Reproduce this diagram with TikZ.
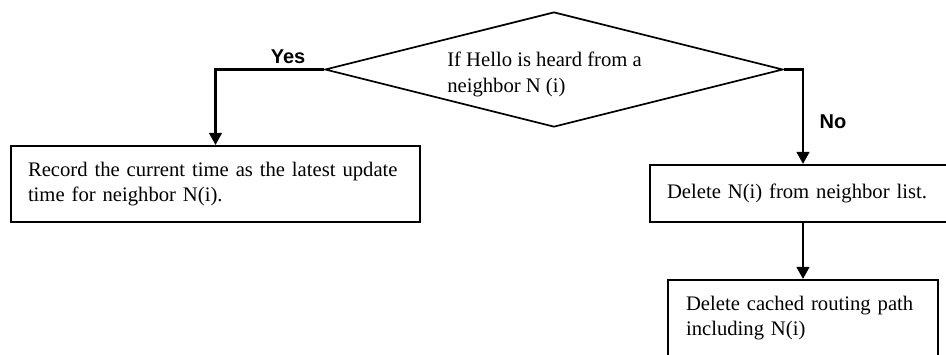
\documentclass[tikz,border=0pt]{standalone}
\usepackage{fontspec}
\setmainfont{Liberation Serif}
\newfontfamily\labelfont{Liberation Sans}
\usetikzlibrary{shapes.geometric,arrows.meta}
\begin{document}
\begin{tikzpicture}[x=0.75pt,y=-0.75pt,
  box/.style={draw,line width=1.6pt,align=left,inner xsep=12.75pt,inner ysep=0pt,
    font=\fontsize{15.5}{18.75}\selectfont},
  flow/.style={line width=1.6pt,-{Triangle[length=9pt,width=9.5pt]}},
  answer/.style={font=\labelfont\bfseries\fontsize{15}{18}\selectfont,inner sep=0pt},
]
\clip (0,0) rectangle (946,354);

% decision
\node[draw,diamond,line width=1.3pt,minimum width=343.5pt,minimum height=86.25pt,
  inner sep=0pt] (dec) at (554,69.5) {};
\node[align=left,anchor=west,inner sep=0pt,font=\fontsize{15.5}{19.5}\selectfont]
  (dtext) at (447,74.5) {\mbox{If Hello is heard from a}\\\mbox{neighbor N (i)}};

% actions
\node[box,text width=281.25pt,minimum height=57pt] (rec) at (215.5,184)
  {\mbox{Record the current time as the latest update}\\\mbox{time for neighbor N(i).}};
\node[box,text width=204pt,minimum height=42.75pt] (del) at (803,193.5)
  {\mbox{Delete N(i) from neighbor list.}};
\node[box,inner xsep=13.5pt,text width=175.5pt,minimum height=57pt] (path) at (803,318)
  {\mbox{Delete cached routing path}\\\mbox{including N(i)}};

% branches
\draw[flow] (dec.west) -| (rec.north);
\draw[flow] (dec.east) -| (del.north);
\draw[flow] (del.south) -- (path.north);

\node[answer] (yes) at (288,57) {Yes};
\node[answer] (no) at (833,122) {No};
\end{tikzpicture}
\end{document}
